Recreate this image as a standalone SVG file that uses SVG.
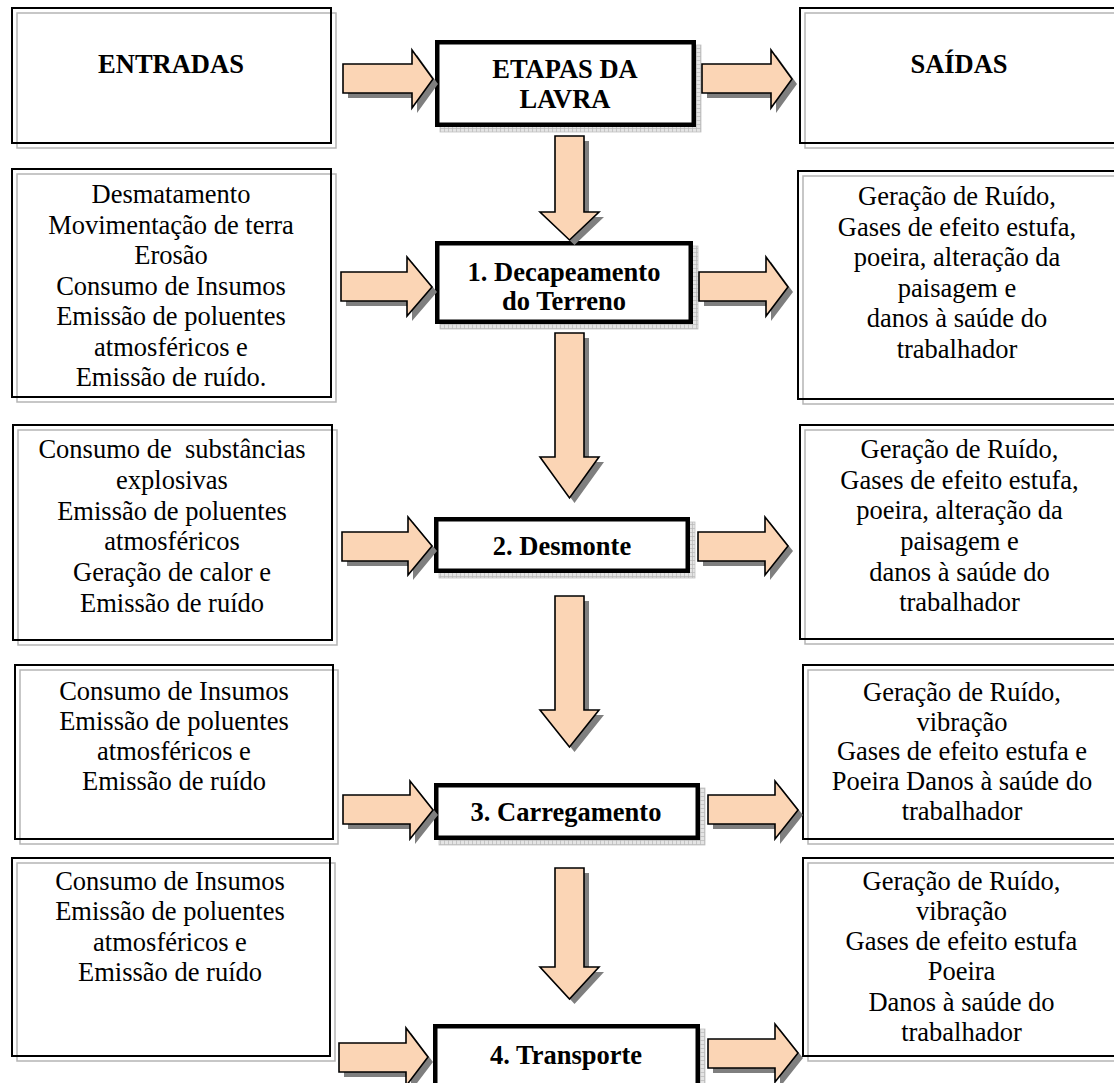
<svg xmlns="http://www.w3.org/2000/svg" width="1114" height="1083" viewBox="0 0 1114 1083">
<defs>
<pattern id="grid" width="4" height="4" patternUnits="userSpaceOnUse">
<rect width="4" height="4" fill="#e4e4e4"/>
<path d="M0,0.5 H4 M0.5,0 V4" stroke="#b8b8b8" stroke-width="0.7"/>
</pattern>
</defs>
<style>
.box{fill:none;stroke:#000;stroke-width:2}
.sh{fill:none;stroke:#b5b5b5;stroke-width:1.5}
.cbox{fill:#fff;stroke:#000;stroke-width:4.5}
.csh{fill:url(#grid);stroke:#c0c0c0;stroke-width:0.8}
.arr{fill:#fbd5b5;stroke:#000;stroke-width:1.6;stroke-linejoin:miter}
.ash{fill:#7f7f7f}
.t{font-family:"Liberation Serif","Times New Roman",serif;font-size:26.5px;text-anchor:middle;fill:#000}
.b{font-weight:bold}
</style>
<rect width="1114" height="1083" fill="#fff"/>

<g id="entradas">
<rect class="sh" x="17" y="13" width="319" height="135"/>
<rect class="box" x="12" y="8" width="319" height="135"/>
<text class="t b" x="171" y="73">ENTRADAS</text>
</g>
<g id="saidas">
<rect class="sh" x="805" y="13" width="320" height="135"/>
<rect class="box" x="800" y="8" width="320" height="135"/>
<text class="t b" x="959" y="73">SAÍDAS</text>
</g>
<g id="etapas">
<rect class="csh" x="440" y="45" width="261" height="87"/>
<rect class="cbox" x="437.25" y="42.25" width="256.5" height="82.5"/>
<text class="t b" x="565" y="78">ETAPAS DA</text>
<text class="t b" x="565" y="108">LAVRA</text>
</g>

<g id="entradas-1">
<rect class="sh" x="17" y="174" width="319" height="228"/>
<rect class="box" x="12" y="169" width="319" height="228"/>
<text class="t" x="171" y="203">Desmatamento</text>
<text class="t" x="171" y="233.5">Movimentação de terra</text>
<text class="t" x="171" y="264">Erosão</text>
<text class="t" x="171" y="294.5">Consumo de Insumos</text>
<text class="t" x="171" y="325">Emissão de poluentes</text>
<text class="t" x="171" y="355.5">atmosféricos e</text>
<text class="t" x="171" y="386">Emissão de ruído.</text>
</g>
<g id="etapa-1">
<rect class="csh" x="440" y="246" width="258" height="83"/>
<rect class="cbox" x="437.25" y="243.25" width="253.5" height="78.5"/>
<text class="t b" x="564" y="281">1. Decapeamento</text>
<text class="t b" x="564" y="310">do Terreno</text>
</g>
<g id="saidas-1">
<rect class="sh" x="803" y="176" width="321" height="228"/>
<rect class="box" x="798" y="171" width="321" height="228"/>
<text class="t" x="957" y="205">Geração de Ruído,</text>
<text class="t" x="957" y="235.5">Gases de efeito estufa,</text>
<text class="t" x="957" y="266">poeira, alteração da</text>
<text class="t" x="957" y="296.5">paisagem e</text>
<text class="t" x="957" y="327">danos à saúde do</text>
<text class="t" x="957" y="357.5">trabalhador</text>
</g>

<g id="entradas-2">
<rect class="sh" x="18" y="430" width="319" height="215"/>
<rect class="box" x="13" y="425" width="319" height="215"/>
<text class="t" x="172" y="458" style="white-space:pre">Consumo de  substâncias</text>
<text class="t" x="172" y="489">explosivas</text>
<text class="t" x="172" y="519.5">Emissão de poluentes</text>
<text class="t" x="172" y="550">atmosféricos</text>
<text class="t" x="172" y="581">Geração de calor e</text>
<text class="t" x="172" y="612">Emissão de ruído</text>
</g>
<g id="etapa-2">
<rect class="csh" x="439" y="522" width="256" height="56"/>
<rect class="cbox" x="436.25" y="519.25" width="251.5" height="51.5"/>
<text class="t b" x="562" y="555">2. Desmonte</text>
</g>
<g id="saidas-2">
<rect class="sh" x="805" y="430" width="320" height="214"/>
<rect class="box" x="800" y="425" width="320" height="214"/>
<text class="t" x="959.5" y="458">Geração de Ruído,</text>
<text class="t" x="959.5" y="488.5">Gases de efeito estufa,</text>
<text class="t" x="959.5" y="519">poeira, alteração da</text>
<text class="t" x="959.5" y="549.5">paisagem e</text>
<text class="t" x="959.5" y="580.5">danos à saúde do</text>
<text class="t" x="959.5" y="611">trabalhador</text>
</g>

<g id="entradas-3">
<rect class="sh" x="20" y="670" width="318" height="174"/>
<rect class="box" x="15" y="665" width="318" height="174"/>
<text class="t" x="174" y="700">Consumo de Insumos</text>
<text class="t" x="174" y="729.5">Emissão de poluentes</text>
<text class="t" x="174" y="759.5">atmosféricos e</text>
<text class="t" x="174" y="790">Emissão de ruído</text>
</g>
<g id="etapa-3">
<rect class="csh" x="439" y="788" width="266" height="57"/>
<rect class="cbox" x="436.25" y="785.25" width="261.5" height="52.5"/>
<text class="t b" x="566" y="821">3. Carregamento</text>
</g>
<g id="saidas-3">
<rect class="sh" x="808" y="670" width="320" height="174"/>
<rect class="box" x="803" y="665" width="320" height="174"/>
<text class="t" x="962" y="701">Geração de Ruído,</text>
<text class="t" x="962" y="730.5">vibração</text>
<text class="t" x="962" y="760">Gases de efeito estufa e</text>
<text class="t" x="962" y="790">Poeira Danos à saúde do</text>
<text class="t" x="962" y="820">trabalhador</text>
</g>

<g id="entradas-4">
<rect class="sh" x="17" y="863" width="318" height="198"/>
<rect class="box" x="12" y="858" width="318" height="198"/>
<text class="t" x="170" y="890">Consumo de Insumos</text>
<text class="t" x="170" y="920">Emissão de poluentes</text>
<text class="t" x="170" y="950.5">atmosféricos e</text>
<text class="t" x="170" y="981">Emissão de ruído</text>
</g>
<g id="etapa-4">
<rect class="csh" x="438" y="1029" width="267" height="70"/>
<rect class="cbox" x="435.25" y="1026.25" width="262.5" height="70"/>
<text class="t b" x="566" y="1064">4. Transporte</text>
</g>
<g id="saidas-4">
<rect class="sh" x="808" y="863" width="320" height="198"/>
<rect class="box" x="803" y="858" width="320" height="198"/>
<text class="t" x="961.5" y="890">Geração de Ruído,</text>
<text class="t" x="961.5" y="920">vibração</text>
<text class="t" x="961.5" y="950">Gases de efeito estufa</text>
<text class="t" x="961.5" y="980">Poeira</text>
<text class="t" x="961.5" y="1010.5">Danos à saúde do</text>
<text class="t" x="961.5" y="1041">trabalhador</text>
</g>

<g id="connectors">
<g transform="translate(5,5)" class="ash">
<path d="M343,64 H412 V50 L433,79 L412,108 V93 H343 Z"/>
<path d="M702,64 H771 V50 L792,79 L771,108 V93 H702 Z"/>
<path d="M555,136 H584 V212 H599 L569.5,240 L540,212 H555 Z"/>
<path d="M341,272 H407 V257 L432,287 L407,316 V301 H341 Z"/>
<path d="M699,272 H766 V257 L788,287 L766,316 V301 H699 Z"/>
<path d="M555,333 H584 V457 H599 L569.5,498 L540,457 H555 Z"/>
<path d="M342,532 H408 V517 L432,546 L408,575 V561 H342 Z"/>
<path d="M698,532 H765 V517 L788,546 L765,575 V561 H698 Z"/>
<path d="M555,596 H584 V710 H599 L569.5,747 L540,710 H555 Z"/>
<path d="M343,795 H410 V781 L433,810 L410,839 V824 H343 Z"/>
<path d="M708,795 H775 V781 L798,810 L775,839 V824 H708 Z"/>
<path d="M555,868 H584 V967 H599 L569.5,999 L540,967 H555 Z"/>
<path d="M339,1043 H406 V1028 L428,1057 L406,1086 V1072 H339 Z"/>
<path d="M708,1039 H775 V1024 L798,1053 L775,1082 V1068 H708 Z"/>
</g>
<g class="arr">
<path d="M343,64 H412 V50 L433,79 L412,108 V93 H343 Z"/>
<path d="M702,64 H771 V50 L792,79 L771,108 V93 H702 Z"/>
<path d="M555,136 H584 V212 H599 L569.5,240 L540,212 H555 Z"/>
<path d="M341,272 H407 V257 L432,287 L407,316 V301 H341 Z"/>
<path d="M699,272 H766 V257 L788,287 L766,316 V301 H699 Z"/>
<path d="M555,333 H584 V457 H599 L569.5,498 L540,457 H555 Z"/>
<path d="M342,532 H408 V517 L432,546 L408,575 V561 H342 Z"/>
<path d="M698,532 H765 V517 L788,546 L765,575 V561 H698 Z"/>
<path d="M555,596 H584 V710 H599 L569.5,747 L540,710 H555 Z"/>
<path d="M343,795 H410 V781 L433,810 L410,839 V824 H343 Z"/>
<path d="M708,795 H775 V781 L798,810 L775,839 V824 H708 Z"/>
<path d="M555,868 H584 V967 H599 L569.5,999 L540,967 H555 Z"/>
<path d="M339,1043 H406 V1028 L428,1057 L406,1086 V1072 H339 Z"/>
<path d="M708,1039 H775 V1024 L798,1053 L775,1082 V1068 H708 Z"/>
</g>
</g>
</svg>
